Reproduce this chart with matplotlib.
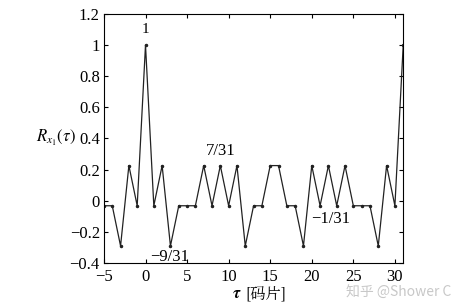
import numpy as np
import matplotlib
matplotlib.use("Agg")
import matplotlib.pyplot as plt

plt.rcParams['font.family'] = ['Liberation Serif', 'Noto Sans CJK SC', 'DejaVu Sans']
plt.rcParams['mathtext.fontset'] = 'stix'

# autocorrelation of a length-31 m-sequence, in units of 1/31
tau = list(range(-5, 32))
r31 = [-1, -1, -9, 7, -1, 31, -1, 7, -9, -1, -1, -1, 7, -1, 7, -1, 7, -9,
       -1, -1, 7, 7, -1, -1, -9, 7, -1, 7, -1, 7, -1, -1, -1, -9, 7, -1, 31]
r = np.array(r31) / 31.0

yticks = [-0.4, -0.2, 0, 0.2, 0.4, 0.6, 0.8, 1, 1.2]
ytick_labels = ['\u22120.4', '\u22120.2', '0', '0.2', '0.4', '0.6', '0.8', '1', '1.2']
xticks = [-5, 0, 5, 10, 15, 20, 25, 30]

fig = plt.figure(figsize=(4.64, 3.03), dpi=100)
ax = fig.add_axes([0.224, 0.132, 0.645, 0.822])

ax.plot(tau, r, color='#222222', lw=0.9, marker='.', ms=3)

ax.set_xlim(-5, 31)
ax.set_ylim(-0.4, 1.2)
ax.set_xticks(xticks)
ax.set_xticklabels([str(t) if t >= 0 else '\u2212' + str(-t) for t in xticks])
ax.set_yticks(yticks)
ax.set_yticklabels(ytick_labels)
ax.tick_params(direction='in', top=True, right=True, labelsize=12, length=3)
ax.tick_params(axis='x', pad=4)
ax.tick_params(axis='y', pad=3)

ax.text(0, 1.06, '1', ha='center', va='bottom', fontsize=11)
ax.text(9, 0.27, '7/31', ha='center', va='bottom', fontsize=12)
ax.text(2.9, -0.36, '\u22129/31', ha='center', va='center', fontsize=12)
ax.text(22.3, -0.12, '\u22121/31', ha='center', va='center', fontsize=12)

fig.text(0.12, 0.545, r'$R_{x_1}(\tau)$', ha='center', va='center', fontsize=12)
fig.text(0.51, 0.03, r'$\boldsymbol{\tau}$', ha='center', va='center', fontsize=12)
fig.text(0.528, 0.03, '[码片]', ha='left', va='center', fontsize=11,
         family=['Noto Serif CJK SC', 'Noto Sans CJK SC', 'DejaVu Sans'])
fig.text(0.86, 0.035, '知乎 @Shower C', ha='center', va='center', fontsize=10,
         color='#c8c8c8', family=['Noto Sans CJK SC', 'DejaVu Sans'])

fig.savefig('out.png', dpi=100)
